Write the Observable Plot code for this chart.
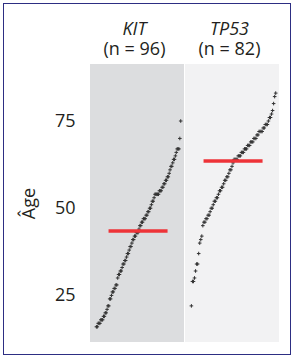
<!DOCTYPE html>
<html>
<head>
<meta charset="utf-8">
<script src="https://cdn.jsdelivr.net/npm/d3@7"></script>
<script src="https://cdn.jsdelivr.net/npm/@observablehq/plot@0.6"></script>
<style>
  body { margin: 0; background: #fff; }
  #wrap { position: relative; width: 295px; height: 361px; background: #fff; overflow: hidden; }
  #border { position: absolute; left: 3px; top: 3px; width: 286px; height: 350px; border: 1.5px solid #2d2e83; box-sizing: content-box; pointer-events: none; }
  #chart { position: absolute; left: 0; top: 0; }
</style>
</head>
<body>
<div id="wrap"><div id="chart"></div><div id="border"></div></div>
<script>
// Categories
const genes = ["KIT", "TP53"];
const counts = {KIT: 96, TP53: 82};
const panelFill = {KIT: "#dcdddf", TP53: "#f2f2f3"};

// Ages (sorted)
const kitAges = [
  16, 16,
  17, 17, 17,
  18, 18, 18,
  19, 19, 20,
  20, 21,
  22, 22,
  24, 24, 25,
  26, 26, 27,
  27, 28, 28,
  30, 31, 31,
  32, 32, 33,
  34, 34, 35,
  35, 36, 37,
  37, 38, 39,
  39, 40, 41,
  41, 42, 42,
  43, 43, 43,
  44, 45, 45,
  46, 46, 47,
  47, 47, 48,
  48, 49, 49,
  50, 50, 51,
  52, 52, 53,
  54, 54, 54,
  54, 54, 55,
  55, 55, 56,
  56, 57, 57,
  58, 58, 59,
  59, 60, 61,
  62, 62, 63,
  64, 64, 65,
  66, 67, 67,
  67, 70, 75
];

const tp53Ages = [
  22, 29, 29, 30, 32, 34, 34, 37, 40, 41, 42,
  45, 46, 46, 47, 47, 48, 48, 49, 50, 50,
  51, 52, 52, 53, 53, 54, 55, 55, 56, 56,
  57, 58, 58, 59, 59, 60, 61, 61, 62, 63, 64,
  64, 64, 64, 65, 65, 65, 66, 66, 66,
  67, 67, 67, 68, 68, 68, 69, 69, 69,
  70, 70, 70, 71, 71, 72, 72, 72, 72, 73,
  73, 74, 74, 74, 75, 76, 76, 77, 78, 80, 82, 83
];

const yTicks = [25, 50, 75];

// Build table: rank position within each panel (0..1)
const agesByGene = {KIT: kitAges, TP53: tp53Ages};
const points = genes.flatMap(g => {
  const a = agesByGene[g];
  return a.map((age, i) => ({gene: g, rank: i / (a.length - 1), age}));
});
const medians = genes.map(g => ({gene: g, median: d3.median(agesByGene[g])}));

const xDomain = [-0.07, 1.045];
const yDomain = [11.5, 91.2];
const ink = "#231f20";
const chart = Plot.plot({
  width: 295,
  height: 361,
  marginLeft: 90,
  marginRight: 16,
  marginTop: 64,
  marginBottom: 19,
  style: {fontFamily: "'Open Sans', sans-serif", fontSize: "18px", color: ink, background: "transparent"},
  fx: {domain: genes, axis: null, padding: 0.014},
  x: {domain: xDomain, axis: null},
  y: {domain: yDomain, ticks: yTicks, tickSize: 0, tickPadding: 15, label: "Âge", labelArrow: false, labelAnchor: "center", labelOffset: 68},
  marks: [
    Plot.rect(genes, {fx: d => d, x1: () => xDomain[0], x2: () => xDomain[1], y1: () => yDomain[0], y2: () => yDomain[1], fill: d => panelFill[d]}),
    Plot.dot(points, {fx: "gene", x: "rank", y: "age", symbol: "plus", r: 1.25, stroke: "#333333", strokeWidth: 1}),
    Plot.ruleY(medians, {fx: "gene", y: "median", x1: 0.15, x2: 0.85, stroke: "#ee3338", strokeWidth: 3.5}),
    Plot.text(genes, {fx: d => d, text: d => d, frameAnchor: "top", lineAnchor: "middle", dy: -35, dx: -3, fontStyle: "italic", fontSize: 18, fill: ink}),
    Plot.text(genes, {fx: d => d, text: d => `(n = ${counts[d]})`, frameAnchor: "top", lineAnchor: "middle", dy: -15, dx: -3, fontSize: 18, fill: ink})
  ]
});
document.getElementById("chart").appendChild(chart);
</script>
</body>
</html>
